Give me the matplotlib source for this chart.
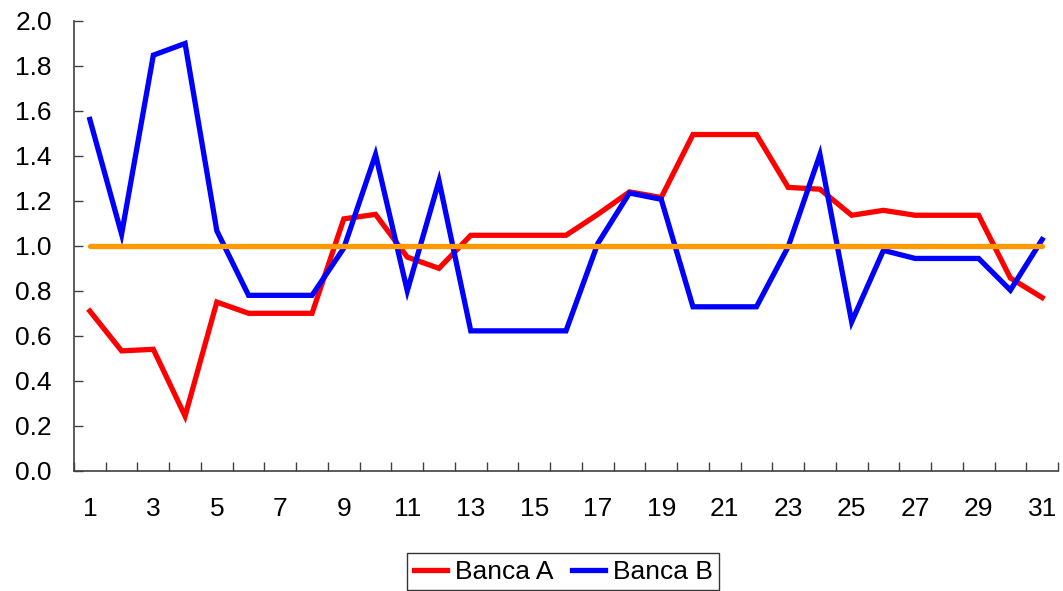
import numpy as np
import matplotlib
matplotlib.use("Agg")
import matplotlib.pyplot as plt

plt.rcParams['font.family'] = ['Liberation Sans', 'DejaVu Sans']

days = list(range(1, 32))
banca_a = [0.71, 0.533, 0.54, 0.243, 0.75, 0.70, 0.70, 0.70, 1.12, 1.14,
           0.95, 0.90, 1.047, 1.047, 1.047, 1.047, 1.14, 1.24, 1.215, 1.495,
           1.495, 1.495, 1.26, 1.252, 1.136, 1.158, 1.136, 1.136, 1.136, 0.857,
           0.77]
banca_b = [1.562, 1.052, 1.848, 1.90, 1.067, 0.78, 0.78, 0.78, 0.99, 1.406,
           0.80, 1.289, 0.622, 0.622, 0.622, 0.622, 1.01, 1.235, 1.207, 0.729,
           0.729, 0.729, 0.996, 1.406, 0.662, 0.98, 0.944, 0.944, 0.944, 0.803,
           1.028]
reference = [1.0] * len(days)

fig = plt.figure(figsize=(10.63, 5.91), dpi=100)
ax = fig.add_axes([0.0696, 0.2035, 0.9257, 0.761])

ax.plot(days, banca_a, color='#FF0000', lw=3.8, label='Banca A', solid_joinstyle='miter')
ax.plot(days, banca_b, color='#0000FF', lw=3.8, label='Banca B', solid_joinstyle='miter')
ax.plot(days, reference, color='#FF9900', lw=3.8, solid_capstyle='round')

ax.set_xlim(0.5, 31.5)
ax.set_ylim(0, 2.0)

# labels on odd days, tick marks on category boundaries
ax.set_xticks(days[::2])
ax.set_xticklabels([str(d) for d in days[::2]])
ax.set_xticks(np.arange(0.5, 32, 1), minor=True)
ax.tick_params(axis='x', which='major', length=0, pad=19, labelsize=19)
ax.tick_params(axis='x', which='minor', direction='in', length=6.5, width=1, color='#404040')

ax.set_yticks(np.arange(0, 2.01, 0.2))
ax.set_yticklabels(['%.1f' % v for v in np.arange(0, 2.01, 0.2)])
ax.tick_params(axis='y', direction='in', length=6.5, width=1, color='#404040', pad=16, labelsize=19)

for side in ['top', 'right']:
    ax.spines[side].set_visible(False)
for side in ['left', 'bottom']:
    ax.spines[side].set_color('#404040')
    ax.spines[side].set_linewidth(1.2)

# legend sits at the bottom, its lower edge runs off the figure like the original
leg = fig.legend(loc='upper center', bbox_to_anchor=(0.530, 0.064), ncol=2,
                 fontsize=19, frameon=True, fancybox=False, edgecolor='black',
                 handlelength=1.25, handletextpad=0.3, columnspacing=0.7,
                 borderpad=0.25, borderaxespad=0)
leg.get_frame().set_linewidth(1)

fig.savefig('out.png', dpi=100)
